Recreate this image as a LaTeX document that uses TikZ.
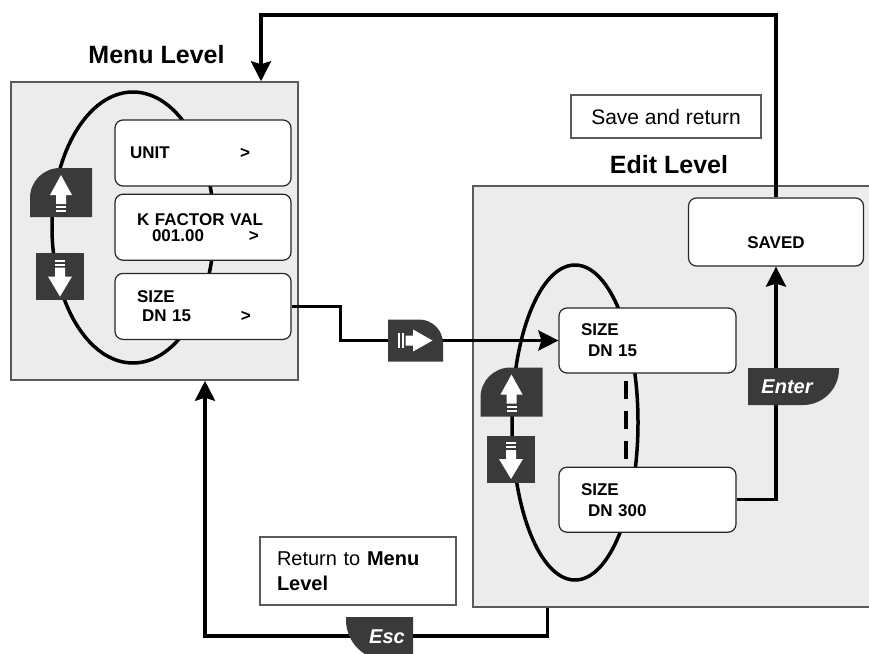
\documentclass[tikz,border=0pt]{standalone}
\usepackage{fontspec}
\setmainfont{Liberation Sans}
\usetikzlibrary{arrows.meta, shapes, positioning, calc}
\definecolor{panelgray}{HTML}{ECECEC}
\definecolor{framegray}{HTML}{5A5A5A}
\definecolor{keygray}{HTML}{3A3A3A}
\tikzset{panel/.style = {
  % Rectangle:
  rectangle,
  draw=framegray, fill=panelgray,
  line width=1.5pt,
  inner sep=0pt
  }}
\tikzset{lcd/.style = {
  % Rectangle:
  rectangle,
  rounded corners=8pt,
  draw=black!85, fill=white,
  line width=1.2pt,
  minimum width=176pt, minimum height=66pt,
  % Text:
  text width=132pt, inner xsep=22pt,
  align=left,
  font=\fontsize{17}{19}\selectfont\bfseries
  }}
\tikzset{note/.style = {
  % Rectangle:
  rectangle,
  draw=framegray, fill=white,
  line width=1.2pt,
  % Text:
  font=\fontsize{21}{25}\selectfont
  }}
\tikzset{title/.style = {
  % Text:
  inner sep=0pt,
  font=\fontsize{25}{25}\selectfont\bfseries
  }}
\tikzset{keylabel/.style = {
  % Text:
  inner sep=0pt, text=white,
  font=\fontsize{20}{20}\selectfont\bfseries\itshape
  }}
\tikzset{arrow/.style = {
  -{Stealth[length=20pt, width=20pt, inset=3pt]},
  line width=3.5pt,
  draw=black
  }}
\tikzset{cycleline/.style = {draw=black, line width=3.5pt}}
\tikzset{dashline/.style = {draw=black, line width=3.5pt, dash pattern=on 18pt off 12pt}}
% keys of the device
\tikzset{upkey/.pic = {
  \fill [keygray] (-31,24.5) -- (-31,5.5) .. controls (-31,-11.1) and (-17.6,-24.5) .. (-1,-24.5) -- (31,-24.5) -- (31,24.5) -- cycle;
  \fill [white] (0,-17.5) -- (11,2.5) -- (5,2.5) -- (5,11.5) -- (-5,11.5) -- (-5,2.5) -- (-11,2.5) -- cycle;
  \fill [white] (-5,13.5) rectangle (5,15.5);
  \fill [white] (-5,17.5) rectangle (5,19.5);
  }}
\tikzset{downkey/.pic = {
  \fill [keygray] (-24,-23.5) rectangle (24,23.5);
  \fill [white] (-5,-17) rectangle (5,-15);
  \fill [white] (-5,-13) rectangle (5,-11);
  \fill [white] (-5,-9) -- (5,-9) -- (5,0) -- (12,0) -- (0,20) -- (-12,0) -- (-5,0) -- cycle;
  }}
\tikzset{rightkey/.pic = {
  \fill [keygray] (-27.5,-21) -- (3.5,-21) .. controls (16.8,-21) and (27.5,-10.3) .. (27.5,3) -- (27.5,21) -- (-27.5,21) -- cycle;
  \fill [white] (-18,-7.5) rectangle (-16,7.5);
  \fill [white] (-14,-7.5) rectangle (-12,7.5);
  \fill [white] (-10,-5) -- (-2.5,-5) -- (-2.5,-11) -- (17,0) -- (-2.5,11) -- (-2.5,5) -- (-10,5) -- cycle;
  }}
\tikzset{enterkey/.pic = {
  \fill [keygray] (-45.5,-18.5) -- (45.5,-18.5) -- (45.5,-17.5) .. controls (45.5,2.4) and (29.4,18.5) .. (9.5,18.5) -- (-45.5,18.5) -- cycle;
  }}
\tikzset{esckey/.pic = {
  \fill [keygray] (-33.5,-21.5) -- (33.5,-21.5) -- (33.5,21.5) -- (6.5,21.5) .. controls (-15.6,21.5) and (-33.5,3.6) .. (-33.5,-18.5) -- cycle;
  }}

\begin{document}
\begin{tikzpicture}[x=1pt, y=-1pt]
  % LAYERS
  \pgfdeclarelayer{bg}
  \pgfsetlayers{bg,main}
  \useasboundingbox (0,0) rectangle (869,653);

  %
  % Background
  %
  \begin{pgfonlayer}{bg}
    \node (menu) [panel, minimum width=287pt, minimum height=298pt] at (154.5,231) {};
    \node (edit) [panel, minimum width=398pt, minimum height=421pt] at (672,396.5) {};
    \draw [cycleline] (133,227.5) ellipse [x radius=81pt, y radius=135.5pt];
    \draw [cycleline] (575,422.5) ellipse [x radius=63pt, y radius=157.5pt];
  \end{pgfonlayer}

  %
  % Specification of nodes
  %
  \node (menutitle) [title, above = 17pt of menu, xshift=2pt] {Menu Level};
  \node (edittitle) [title, above = 11pt of edit, xshift=-3pt] {Edit Level};

  \node (unit) [lcd, inner xsep=15pt, text width=146pt] at (203,153) {\makebox[110pt][l]{UNIT}>};
  \node (kfactor) [lcd, below = 7pt of unit] {K FACTOR VAL\\[-3pt]\hspace*{15pt}\makebox[97pt][l]{001.00}>};
  \node (msize) [lcd, below = 12pt of kfactor] {SIZE\\\hspace*{5pt}\makebox[99pt][l]{DN 15}>};

  \node (esize) [lcd, minimum width=177pt, minimum height=65pt, text width=133pt] at (647.5,340.5) {SIZE\\[2pt]\hspace*{7pt}DN 15};
  \node (esize300) [lcd, minimum width=177pt, minimum height=65pt, text width=133pt, below = 93pt of esize] {SIZE\\[2pt]\hspace*{7pt}DN 300};
  \node (saved) [lcd, minimum width=175pt, minimum height=68pt, text width=131pt, align=center] at (776,232) {\strut\\SAVED};

  \node (savenote) [note, minimum width=190pt, minimum height=43pt] at (666,116.5) {Save and return};
  \node (returnnote) [note, text width=162pt, inner xsep=17pt, align=left, minimum height=68pt, font=\fontsize{20}{25}\selectfont] at (358,571) {Return to \textbf{Menu}\\\textbf{Level}};

  \coordinate (topturn) at (261,15);
  \coordinate (escturn) at (205,636);

  %
  % Specification of lines
  %
  \draw [dashline] ([shift={(-21.5,7)}]esize.south) -- ([shift={(-21.5,-8)}]esize300.north);

  \draw [arrow] (saved.north) |- (topturn) -- (topturn |- menu.north);
  \draw [arrow] (msize.east) -- ++(49,0) |- (esize.west);
  \draw [arrow] (esize300.east) -| (saved.south);
  \draw [arrow] ([xshift=75pt]edit.south west) |- (escturn) -- (escturn |- menu.south);

  %
  % Keys
  %
  \pic at (61,192.5) {upkey};
  \pic at (60,276.5) {downkey};
  \pic at (511.5,392) {upkey};
  \pic at (511,459) {downkey};
  \pic at (415.5,340.5) {rightkey};
  \pic at (793.5,386.5) {enterkey};
  \pic at (379.5,638.5) {esckey};
  \node (enter) [keylabel] at (787,387) {Enter};
  \node (esc) [keylabel] at (387,637) {Esc};
\end{tikzpicture}
\end{document}
